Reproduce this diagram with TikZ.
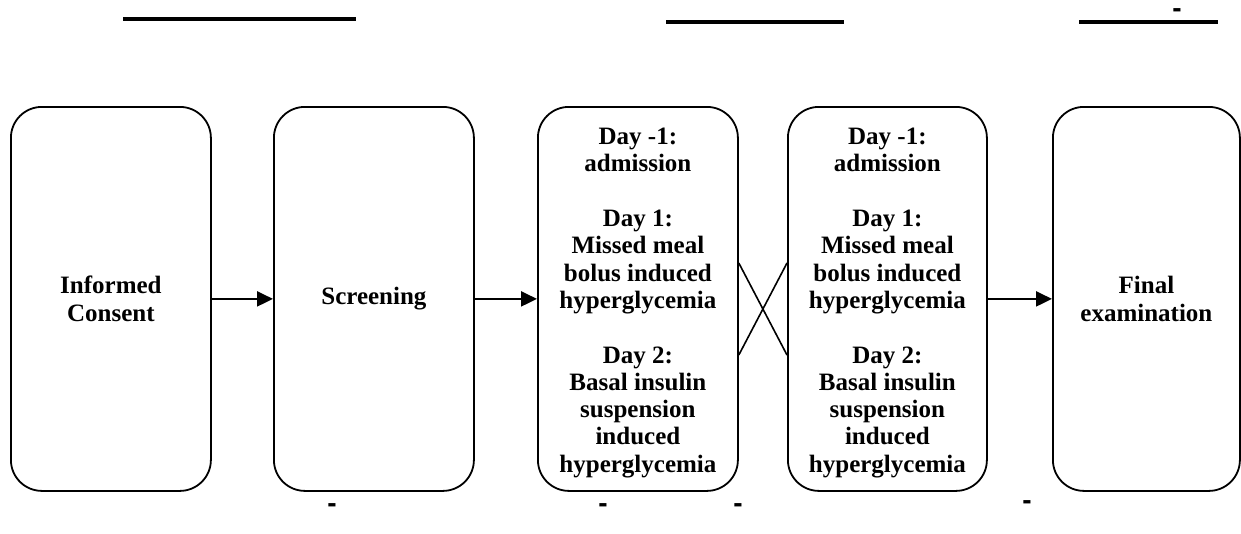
\documentclass[tikz,border=0pt]{standalone}
\usepackage{fontspec}
\setmainfont{Liberation Serif}
\newfontfamily\dashfont{Liberation Sans}
\usetikzlibrary{arrows.meta}
\tikzset{
  x=1pt,y=-1pt,
  stage/.style={draw,line width=1.8pt,rounded corners=31pt,inner sep=0pt,
    font=\fontsize{25}{27.3}\selectfont\bfseries,align=center,anchor=north west},
  daytext/.style={inner sep=0pt,font=\fontsize{25}{27.3}\selectfont\bfseries,align=center},
  flow/.style={line width=2.2pt,-{Triangle[length=16pt,width=15pt]}},
  cross/.style={line width=1.6pt},
  rule/.style={line width=4pt},
  dashmark/.style={font=\dashfont\fontsize{28}{28}\selectfont\bfseries,inner sep=0pt}
}
\begin{document}
\begin{tikzpicture}
\useasboundingbox (0,0) rectangle (1241,533);
% boxes
\node[stage,minimum width=200pt,minimum height=384pt] (b1) at (10,106) {Informed\\Consent};
\node[stage,minimum width=200pt,minimum height=384pt] (b2) at (273,106) {Screening};
\node[stage,minimum width=200pt,minimum height=384pt] (b3) at (537,106) {};
\node[stage,minimum width=199pt,minimum height=384pt] (b4) at (787,106) {};
\node[stage,minimum width=187pt,minimum height=384pt] (b5) at (1052,106) {Final\\examination};
\node[daytext] (t3) at ([yshift=-4pt]b3.center) {Day -1:\\admission\\[27.3pt]Day 1:\\Missed meal\\bolus induced\\hyperglycemia\\[27.3pt]Day 2:\\Basal insulin\\suspension\\induced\\hyperglycemia};
\node[daytext] (t4) at ([yshift=-4pt]b4.center) {Day -1:\\admission\\[27.3pt]Day 1:\\Missed meal\\bolus induced\\hyperglycemia\\[27.3pt]Day 2:\\Basal insulin\\suspension\\induced\\hyperglycemia};
% arrows
\draw[flow] (b1.east) -- (b2.west);
\draw[flow] (b2.east) -- (b3.west);
\draw[flow] (b4.east) -- (b5.west);
% crossing
\coordinate (c1) at (b3.east |- 0,263);
\coordinate (c2) at (b3.east |- 0,355);
\coordinate (c3) at (b4.west |- 0,263);
\coordinate (c4) at (b4.west |- 0,355);
\draw[cross] (c1) -- (c4);
\draw[cross] (c2) -- (c3);
% top rules
\coordinate (r1a) at (123,19); \coordinate (r1b) at (356,19);
\coordinate (r2a) at (666,22); \coordinate (r2b) at (844,22);
\coordinate (r3a) at (1079,22); \coordinate (r3b) at (1218,22);
\draw[rule] (r1a) -- (r1b);
\draw[rule] (r2a) -- (r2b);
\draw[rule] (r3a) -- (r3b);
% dashes
\node[dashmark] (d0) at (1177,13) {-};
\node[dashmark] (d1) at (332,508) {-};
\node[dashmark] (d2) at (603,508) {-};
\node[dashmark] (d3) at (738,508) {-};
\node[dashmark] (d4) at (1027,505) {-};
\end{tikzpicture}
\end{document}
